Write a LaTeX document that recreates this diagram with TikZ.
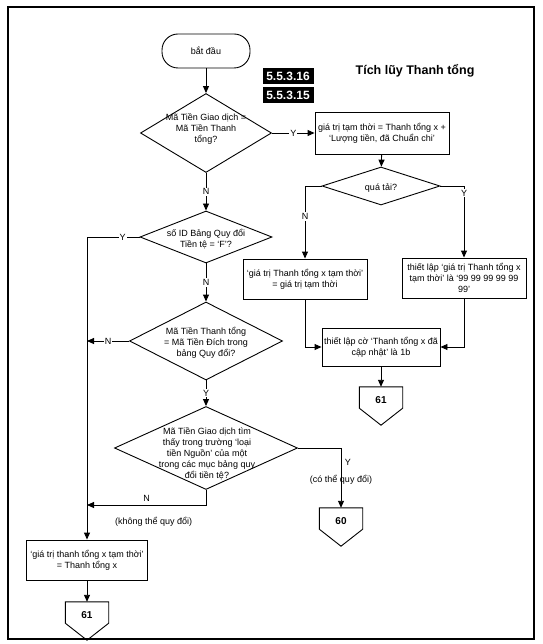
\documentclass[tikz,border=0pt]{standalone}
\usepackage{fontspec}
\setmainfont{Liberation Sans}
\usepackage{tikz}
\usetikzlibrary{shapes.geometric,arrows.meta,positioning}

\begin{document}
\begin{tikzpicture}[x=1pt,y=-1pt,
  every node/.style={font=\fontsize{9}{11}\selectfont},
  proc/.style={draw=cln,fill=cfl,line width=0.9pt,inner sep=1pt,align=center},
  dec/.style={draw=cln,fill=cfl,line width=0.9pt,shape=diamond,inner sep=0pt},
  dtxt/.style={align=center,inner sep=0pt},
  term/.style={draw=cln,line width=0.9pt,rounded corners=16pt,minimum width=88pt,minimum height=34pt},
  offp/.style={minimum width=43pt,minimum height=26pt,inner sep=0pt,font=\bfseries\fontsize{10}{12}\selectfont},
  tag/.style={fill=cln,text=cfl,font=\bfseries\fontsize{12}{14}\selectfont,minimum width=51pt,minimum height=16pt,inner sep=0pt},
  lbl/.style={fill=cfl,inner sep=1pt},
  arr/.style={draw=cln,line width=0.9pt,-{Triangle[length=7pt,width=6pt]}}]
%
\useasboundingbox (0,0) rectangle (542,644);
%
\definecolor{cln}{rgb}{0.0,0.0,0.0}
\definecolor{cfl}{rgb}{1.0,1.0,1.0}
%
\draw[draw=cln,line width=1.4pt] (8,7) rectangle (534,639);
%
\node[term] (start) at (206,51) {bắt đầu};
\node[font=\bfseries\fontsize{12.5}{15}\selectfont] (ttl) at (415,71) {Tích lũy Thanh tổng};
\node[tag] (t16) at (288,76) {5.5.3.16};
\node[tag] (t15) at (288,95) {5.5.3.15};
%
\node[dec,minimum width=131pt,minimum height=79pt] (d1) at (206,133) {};
\node[dtxt] (d1t) at (206,129) {Mã Tiền Giao dịch =\\Mã Tiền Thanh\\tổng?};
\node[proc,minimum width=134pt,minimum height=42pt] (tmp) at (382,133) {giá trị tạm thời = Thanh tổng x +\\`Lượng tiền, đã Chuẩn chi'};
\node[dec,minimum width=118pt,minimum height=38pt] (qt) at (381,186) {};
\node[dtxt] (qtt) at (381,188) {quá tải?};
\node[proc,minimum width=124pt,minimum height=40pt] (bl) at (305,279) {`giá trị Thanh tổng x tạm thời'\\= giá trị tạm thời};
\node[proc,minimum width=124pt,minimum height=40pt] (br) at (464,278) {thiết lập `giá trị Thanh tổng x\\tạm thời' là `99 99 99 99 99\\99'};
\node[proc,minimum width=118pt,minimum height=38pt] (upd) at (381,347) {thiết lập cờ `Thanh tổng x đã\\cập nhật' là 1b};
\node[offp] (p61r) at (381,400) {61};
%
\node[dec,minimum width=132pt,minimum height=52pt] (d2) at (206,237) {};
\node[dtxt] (d2t) at (206,239) {số ID Bảng Quy đổi\\Tiền tệ = `F'?};
\node[dec,minimum width=153pt,minimum height=78pt] (d3) at (206,341) {};
\node[dtxt] (d3t) at (206,343) {Mã Tiền Thanh tổng\\= Mã Tiền Đích trong\\bảng Quy đổi?};
\node[dec,minimum width=183pt,minimum height=83pt] (d4) at (206,448) {};
\node[dtxt] (d4t) at (207,454) {Mã Tiền Giao dịch tìm\\thấy trong trường `loại\\tiền Nguồn' của một\\trong các mục bảng quy\\đổi tiền tệ?};
\node[offp] (p60) at (341,521) {60};
\node[proc,minimum width=121pt,minimum height=40pt] (fin) at (87,560) {`giá trị thanh tổng x tạm thời'\\= Thanh tổng x};
\node[offp] (p61l) at (87,615) {61};
%
\foreach \p in {p61r,p60,p61l}
  \draw[draw=cln,line width=0.9pt] (\p.north west) -- (\p.north east) -- ([yshift=5pt]\p.south east)
    -- ([yshift=-12pt]\p.south) -- ([yshift=5pt]\p.south west) -- cycle;
%
\coordinate (nk) at (87,341);
\coordinate (nj) at (87,505);
%
\draw[arr] (start) -- (d1);
\draw[arr] (d1.east) -- node[lbl]{Y} (tmp.west);
\draw[arr] (tmp) -- (qt);
\draw[arr] (qt.west) -| node[lbl,pos=0.71]{N} (bl.north);
\draw[arr] (qt.east) -| node[lbl,pos=0.55]{Y} (br.north);
\draw[arr] (bl.south) |- (upd.west);
\draw[arr] (br.south) |- (upd.east);
\draw[arr] (upd) -- (p61r);
%
\draw[arr] (d1) -- node[lbl]{N} (d2);
\draw[arr] (d2.west) -| node[lbl,pos=0.16]{Y} (fin.north);
\draw[arr] (d2) -- node[lbl]{N} (d3);
\draw[arr] (d3.west) -- node[lbl]{N} (nk);
\draw[arr] (d3) -- node[lbl]{Y} (d4);
\draw[arr] (d4.east) -| node[right,pos=0.62]{Y} node[pos=0.77]{(có thể quy đổi)} (p60.north);
\draw[arr] (d4.south) |- node[above,pos=0.75]{N} node[below,pos=0.72,yshift=-8pt]{(không thể quy đổi)} (nj);
\draw[arr] (fin) -- (p61l);
%
\end{tikzpicture}
\end{document}
